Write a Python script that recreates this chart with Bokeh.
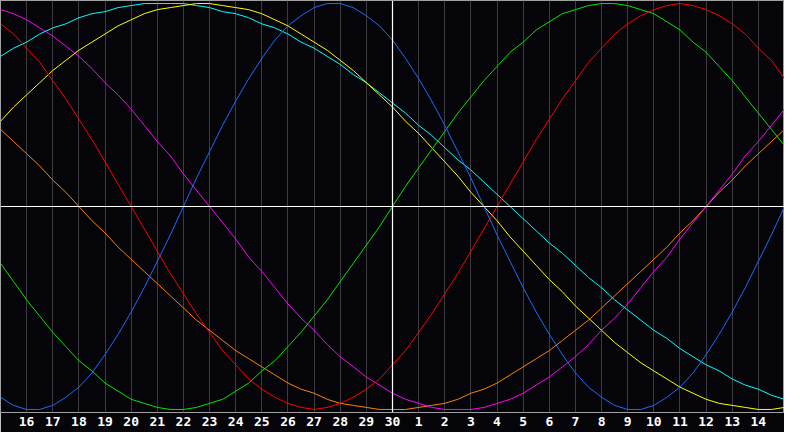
from bokeh.plotting import figure
from bokeh.models import Range1d, FixedTicker, Span
from bokeh.embed import file_html
from bokeh.resources import INLINE

# Day labels along the x axis (15th of one month to 15th of the next)
days = [15, 16, 17, 18, 19, 20, 21, 22, 23, 24, 25, 26, 27, 28, 29, 30,
        1, 2, 3, 4, 5, 6, 7, 8, 9, 10, 11, 12, 13, 14, 15]
today_index = 15

# Cycle values (percent): one at each day line ...
blue = [-94, -100, -98, -89, -73, -52, -27, 0, 27, 52, 73, 89, 98, 100, 94, 82,
        63, 40, 14, -14, -40, -63, -82, -94, -100, -98, -89, -73, -52, -27, 0]
red = [90, 78, 62, 43, 22, 0, -22, -43, -62, -78, -90, -97, -100, -97, -90, -78,
       -62, -43, -22, 0, 22, 43, 62, 78, 90, 97, 100, 97, 90, 78, 63]
green = [-28, -46, -62, -76, -87, -95, -99, -100, -97, -91, -81, -69, -54, -37, -19, 0,
         19, 37, 54, 69, 81, 91, 97, 100, 99, 95, 87, 76, 62, 46, 30]
magenta = [97, 92, 84, 74, 61, 48, 32, 16, 0, -16, -32, -48, -61, -74, -84, -92,
           -97, -100, -100, -97, -92, -84, -74, -61, -48, -32, -16, 0, 16, 32, 48]
orange = [38, 26, 13, 0, -13, -26, -38, -50, -61, -71, -79, -87, -92, -97, -99, -100,
          -99, -97, -92, -87, -79, -71, -61, -50, -38, -26, -13, 0, 13, 26, 38]
yellow = [42, 55, 67, 77, 85, 92, 97, 99, 100, 98, 95, 89, 81, 72, 61, 49,
          36, 22, 7, -7, -22, -36, -49, -61, -72, -81, -89, -95, -98, -100, -99]
cyan = [74, 81, 88, 93, 96, 99, 100, 100, 98, 95, 90, 85, 78, 70, 61, 51,
        40, 29, 18, 6, -6, -18, -29, -40, -51, -61, -70, -78, -85, -90, -95]

# ... and one half-way between each pair of day lines
blue_mid = [-98, -100, -94, -82, -63, -40, -14, 14, 40, 63, 82, 94, 100, 98, 89,
            73, 52, 27, 0, -27, -52, -73, -89, -98, -100, -94, -82, -63, -40, -14]
red_mid = [85, 71, 53, 33, 11, -11, -33, -53, -71, -85, -94, -99, -99, -94, -85,
           -71, -53, -33, -11, 11, 33, 53, 71, 85, 94, 99, 99, 94, 85, 72]
green_mid = [-37, -54, -69, -81, -91, -97, -100, -99, -95, -87, -76, -62, -46, -28, -10,
             10, 28, 46, 62, 76, 87, 95, 99, 100, 97, 91, 81, 69, 54, 38]
magenta_mid = [95, 88, 79, 68, 55, 40, 25, 8, -8, -25, -40, -55, -68, -79, -88,
               -95, -99, -100, -99, -95, -88, -79, -68, -55, -40, -25, -8, 8, 25, 40]
orange_mid = [32, 20, 7, -7, -20, -32, -44, -56, -66, -75, -83, -90, -95, -98, -100,
              -100, -98, -95, -90, -83, -75, -66, -56, -44, -32, -20, -7, 7, 20, 32]
yellow_mid = [49, 61, 72, 81, 89, 95, 98, 100, 99, 97, 92, 85, 77, 67, 55,
              42, 29, 15, 0, -15, -29, -42, -55, -67, -77, -85, -92, -97, -99, -100]
cyan_mid = [78, 85, 90, 95, 98, 100, 100, 99, 96, 93, 88, 81, 74, 65, 56,
            46, 35, 23, 12, 0, -12, -23, -35, -46, -56, -65, -74, -81, -88, -93]

series = [
    (orange, orange_mid, "#ff8000"),
    (magenta, magenta_mid, "#ff00ff"),
    (cyan, cyan_mid, "#00ffff"),
    (yellow, yellow_mid, "#ffff00"),
    (green, green_mid, "#00e800"),
    (red, red_mid, "#ff0000"),
    (blue, blue_mid, "#1a6cff"),
]

bg = "#050509"


def merge(day_vals, mid_vals):
    xs, ys = [], []
    for i, v in enumerate(day_vals):
        xs.append(i)
        ys.append(v)
        if i < len(mid_vals):
            xs.append(i + 0.5)
            ys.append(mid_vals[i])
    return xs, ys


p = figure(width=784, height=432,
           x_range=Range1d(0, len(days) - 1), y_range=Range1d(-101.5, 101.5),
           output_backend="svg", toolbar_location=None,
           y_axis_location=None,
           min_border_left=0, min_border_right=0, min_border_top=0, min_border_bottom=20,
           background_fill_color=bg, border_fill_color=bg,
           outline_line_color="#a0a0a0", outline_line_width=1)

ticks = list(range(1, len(days) - 1))
p.xaxis.ticker = FixedTicker(ticks=ticks)
p.xaxis.major_label_overrides = {i: str(days[i]) for i in ticks}
p.xaxis.major_tick_line_color = None
p.xaxis.minor_tick_line_color = None
p.xaxis.major_tick_out = 0
p.xaxis.major_tick_in = 0
p.xaxis.axis_line_color = None
p.xaxis.major_label_standoff = 4
p.xaxis.major_label_text_color = "#ffffff"
p.xaxis.major_label_text_font = "DejaVu Sans Mono"
p.xaxis.major_label_text_font_style = "bold"
p.xaxis.major_label_text_font_size = "13px"

p.xgrid.ticker = FixedTicker(ticks=ticks)
p.xgrid.grid_line_color = "#3c3c40"
p.xgrid.grid_line_width = 1
p.ygrid.visible = False

p.add_layout(Span(location=today_index, dimension="height", line_color="#ffffff", line_width=1.2))
p.add_layout(Span(location=0, dimension="width", line_color="#ffffff", line_width=1.2))

for day_vals, mid_vals, col in series:
    xs, ys = merge(day_vals, mid_vals)
    p.line(xs, ys, line_color=col, line_width=1)

open("out.html", "w").write(file_html(p, INLINE))
